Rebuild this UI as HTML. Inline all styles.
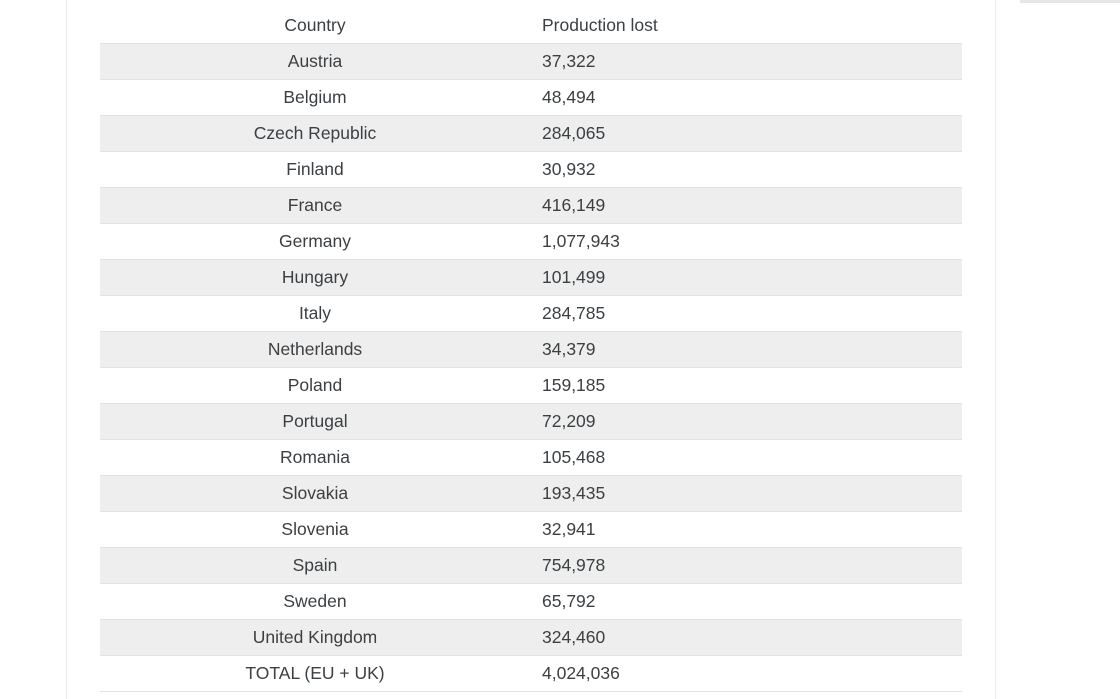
<!DOCTYPE html>
<html><head><meta charset="utf-8"><style>
html,body{margin:0;padding:0;width:1120px;height:699px;overflow:hidden;background:#fff;font-family:"Liberation Sans",sans-serif;color:#3c4043}
#panel{position:absolute;left:66px;top:0;width:928px;height:699px;border-left:1px solid #ececec;border-right:1px solid #ececec}
#topbar{position:absolute;left:1020px;top:0;width:100px;height:3px;background:#e6e6e6}
table{position:absolute;left:100px;top:8px;width:862px;border-collapse:collapse;font-size:17.5px}
td,th{height:35px;padding:0;border-bottom:1px solid #e2e2e2;font-weight:normal}
td:first-child,th:first-child{width:430px;text-align:center}
td:last-child,th:last-child{text-align:left;padding-left:12px}
tr.g td{background:#eeeeee}
</style></head><body>
<div id="panel"></div>
<div id="topbar"></div>
<table>
<tr><th>Country</th><th>Production lost</th></tr>
<tr class="g"><td>Austria</td><td>37,322</td></tr>
<tr><td>Belgium</td><td>48,494</td></tr>
<tr class="g"><td>Czech Republic</td><td>284,065</td></tr>
<tr><td>Finland</td><td>30,932</td></tr>
<tr class="g"><td>France</td><td>416,149</td></tr>
<tr><td>Germany</td><td>1,077,943</td></tr>
<tr class="g"><td>Hungary</td><td>101,499</td></tr>
<tr><td>Italy</td><td>284,785</td></tr>
<tr class="g"><td>Netherlands</td><td>34,379</td></tr>
<tr><td>Poland</td><td>159,185</td></tr>
<tr class="g"><td>Portugal</td><td>72,209</td></tr>
<tr><td>Romania</td><td>105,468</td></tr>
<tr class="g"><td>Slovakia</td><td>193,435</td></tr>
<tr><td>Slovenia</td><td>32,941</td></tr>
<tr class="g"><td>Spain</td><td>754,978</td></tr>
<tr><td>Sweden</td><td>65,792</td></tr>
<tr class="g"><td>United Kingdom</td><td>324,460</td></tr>
<tr><td>TOTAL (EU + UK)</td><td>4,024,036</td></tr>
</table>
</body></html>
